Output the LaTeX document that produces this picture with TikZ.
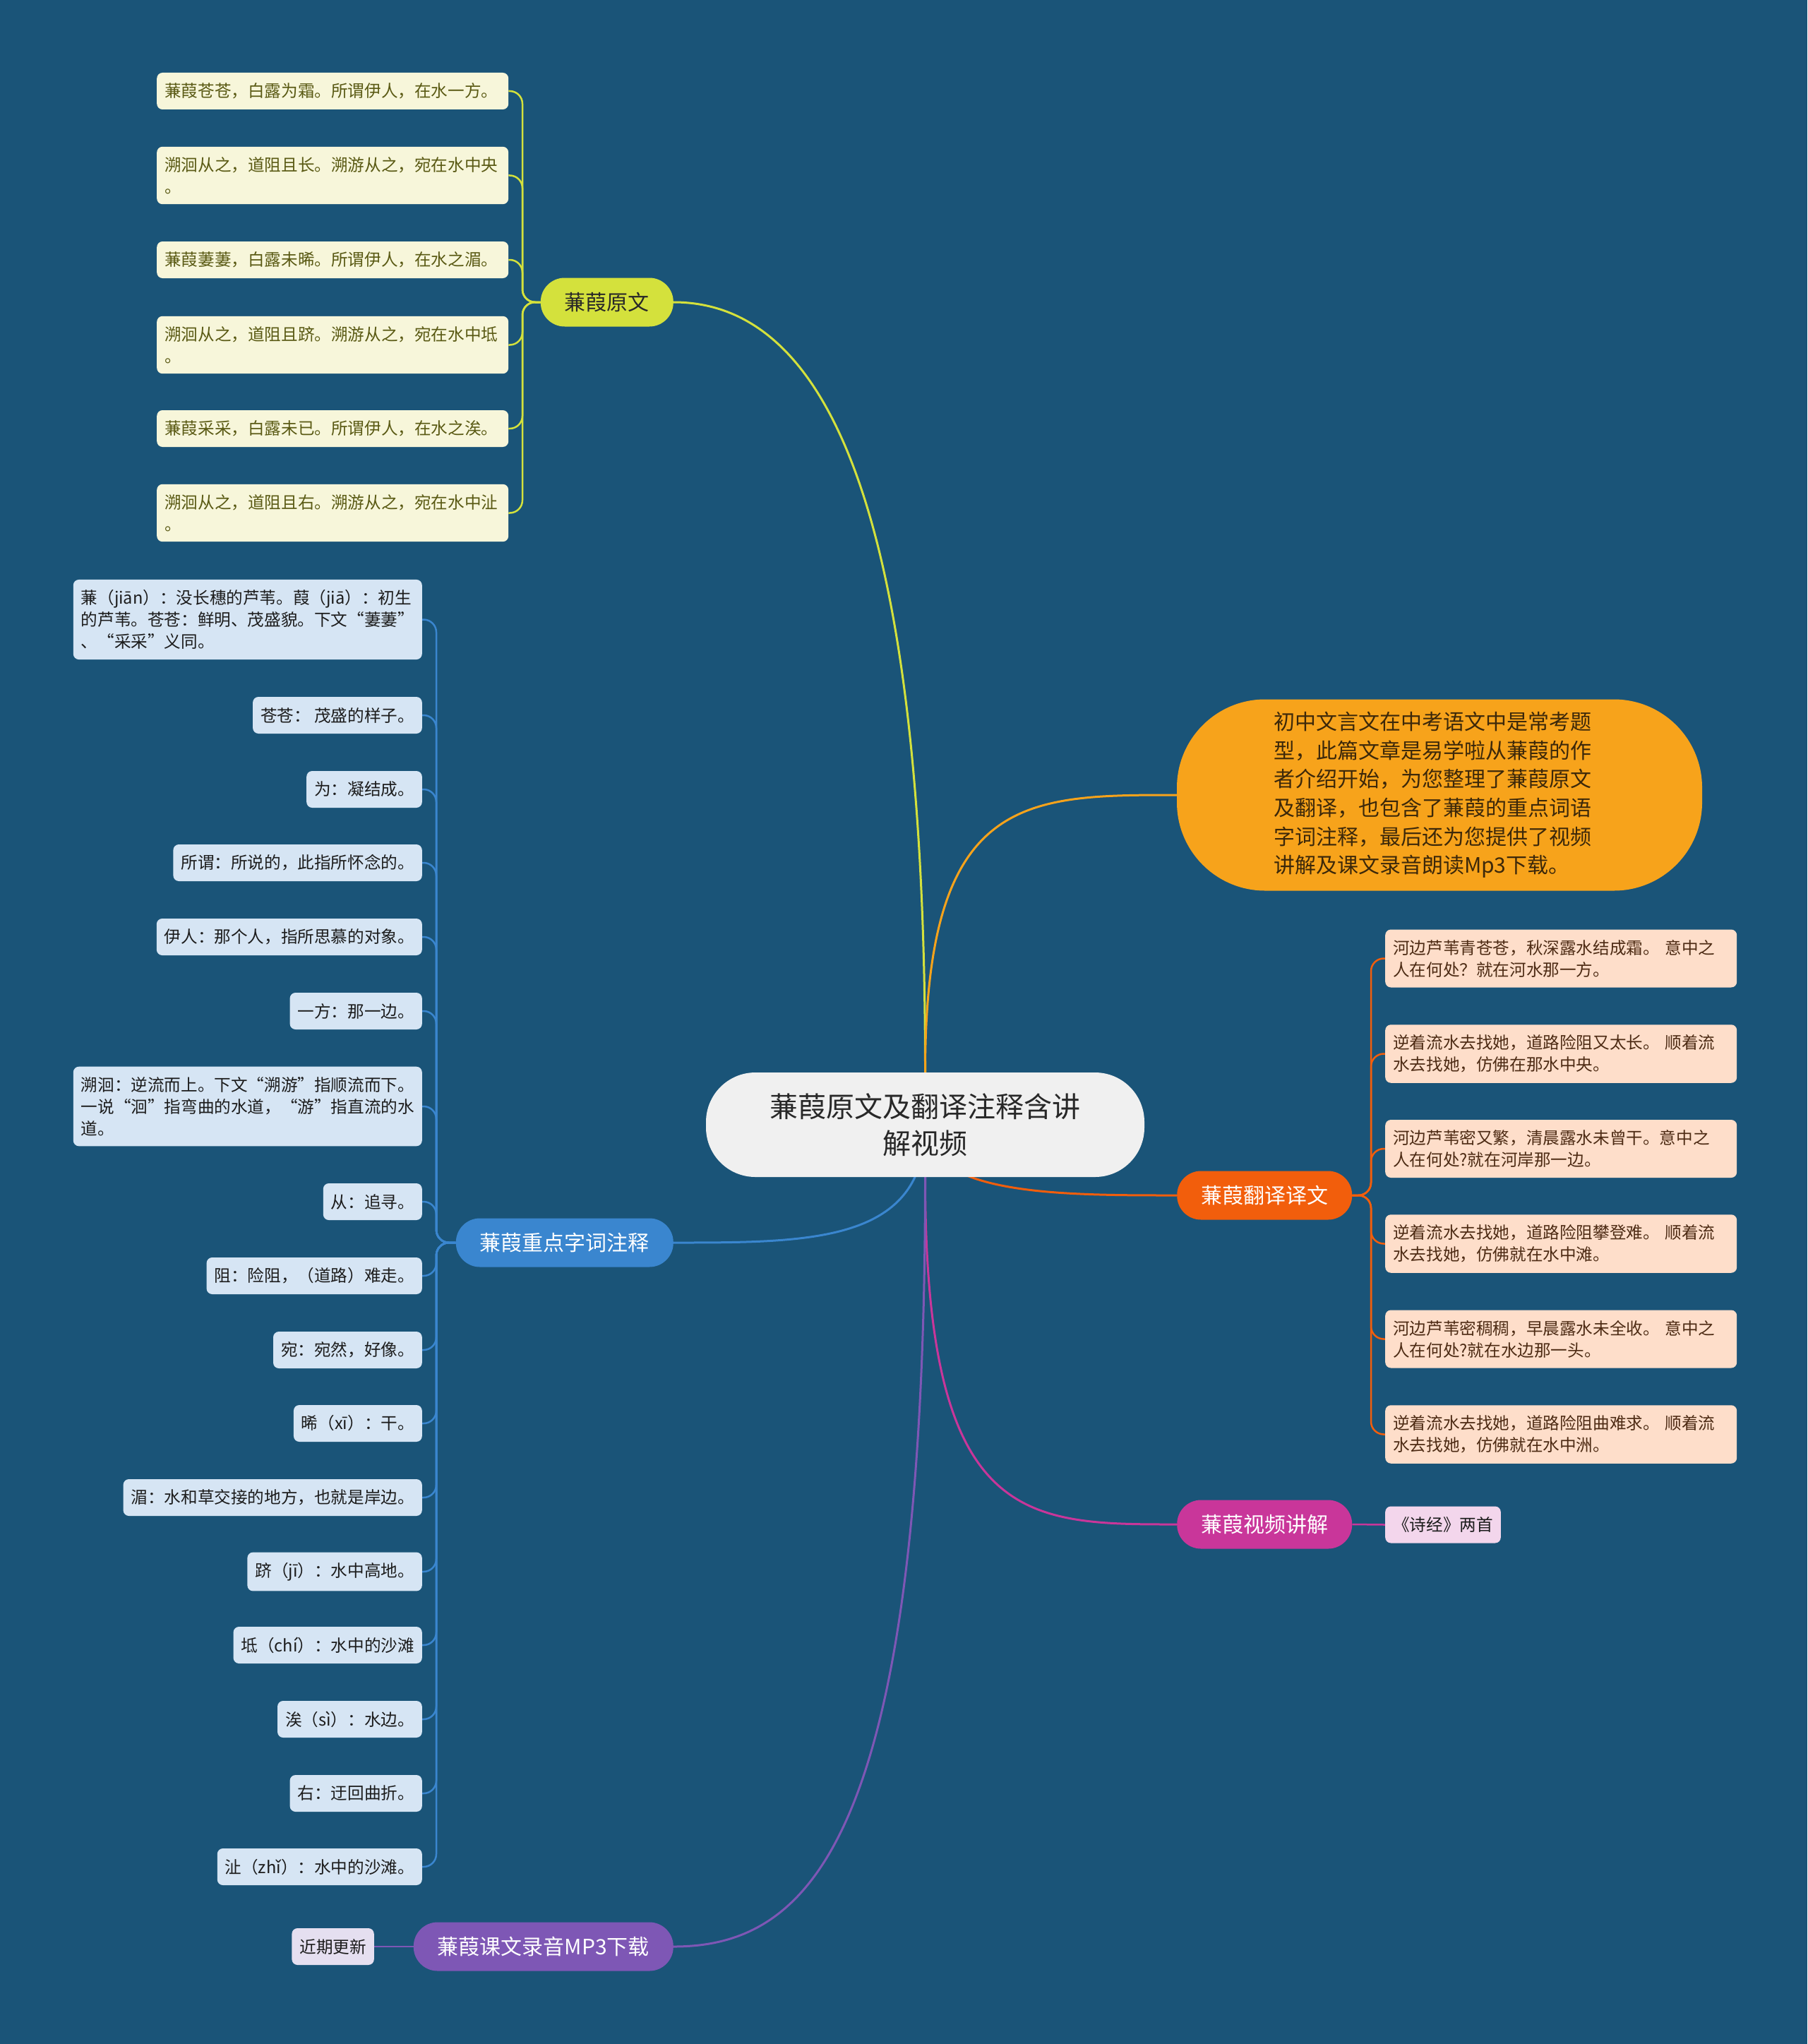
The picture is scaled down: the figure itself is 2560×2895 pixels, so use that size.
\documentclass[tikz,border=0pt]{standalone}
\usepackage{fontspec}
\setmainfont{Noto Sans CJK SC}
\definecolor{bgc}{RGB}{26,84,120}
\definecolor{ylb}{RGB}{212,225,60}
\definecolor{ylf}{RGB}{247,246,218}
\definecolor{ylt}{RGB}{90,90,20}
\definecolor{inb}{RGB}{247,163,27}
\definecolor{int}{RGB}{60,40,10}
\definecolor{trb}{RGB}{242,94,12}
\definecolor{trf}{RGB}{254,222,202}
\definecolor{trt}{RGB}{77,43,20}
\definecolor{blb}{RGB}{58,134,207}
\definecolor{blf}{RGB}{214,229,244}
\definecolor{blt}{RGB}{28,28,28}
\definecolor{vdb}{RGB}{201,54,154}
\definecolor{vdf}{RGB}{243,214,236}
\definecolor{mpb}{RGB}{126,87,181}
\definecolor{mpf}{RGB}{229,223,240}
\definecolor{rtf}{RGB}{240,240,240}
\definecolor{rtt}{RGB}{40,40,40}
\newcommand\leaffont{\fontsize{23.6}{31}\selectfont}
\newcommand\branchfont{\fontsize{30}{40}\selectfont}
\newcommand\introfont{\fontsize{30}{40.6}\selectfont}
\newcommand\rootfont{\fontsize{40}{52}\selectfont}
\pgfdeclarelayer{bgl}
\pgfdeclarelayer{edges}
\pgfsetlayers{bgl,edges,main}
\begin{document}
\begin{tikzpicture}[x=1pt,y=-1pt,
  leafbase/.style={rounded corners=8, inner xsep=11, inner ysep=14.5, minimum height=52, font=\leaffont},
  leafy/.style={leafbase, fill=ylf, text=ylt, align=left, text width=476, anchor=west},
  leafo/.style={leafbase, fill=trf, text=trt, align=left, text width=476, anchor=west},
  leafb/.style={leafbase, fill=blf, text=blt, align=left, anchor=east},
  branch/.style={rounded corners=34, minimum height=69, inner xsep=34, inner ysep=10, font=\branchfont},
  rootline/.style={line width=3},
  leafline/.style={line width=2.5, rounded corners=18}]
\begin{pgfonlayer}{bgl}
\fill[bgc] (0,0) rectangle (2560,2895);
\end{pgfonlayer}
\useasboundingbox (0,0) rectangle (2560,2895);

% root
\node[fill=rtf, text=rtt, rounded corners=70, minimum width=621, minimum height=148, align=center, font=\rootfont] (root) at (1310.5,1593) {蒹葭原文及翻译注释含讲\\解视频};

% branches
\node[branch, fill=ylb, text=rtt, anchor=east] (yl) at (954,428) {蒹葭原文};
\node[fill=inb, text=int, rounded corners=125, minimum width=744, minimum height=271, align=left, text width=470, font=\introfont] (intro) at (2039,1126) {初中文言文在中考语文中是常考题\\型，此篇文章是易学啦从蒹葭的作\\者介绍开始，为您整理了蒹葭原文\\及翻译，也包含了蒹葭的重点词语\\字词注释，最后还为您提供了视频\\讲解及课文录音朗读Mp3下载。};
\node[branch, fill=trb, text=white, anchor=west] (tr) at (1667,1693) {蒹葭翻译译文};
\node[branch, fill=blb, text=white, anchor=east] (an) at (954,1760) {蒹葭重点字词注释};
\node[branch, fill=vdb, text=white, anchor=west] (vd) at (1667,2159) {蒹葭视频讲解};
\node[branch, fill=mpb, text=white, anchor=east] (mp) at (954,2757) {蒹葭课文录音MP3下载};

% spine positions
\coordinate (ysp) at (740,0);
\coordinate (tsp) at (1942,0);
\coordinate (bsp) at (618,0);

% yellow leaves
\node[leafy] (y1) at (222,129) {蒹葭苍苍，白露为霜。所谓伊人，在水一方。};
\node[leafy] (y2) at (222,248.5) {溯洄从之，道阻且长。溯游从之，宛在水中央\\。};
\node[leafy] (y3) at (222,368) {蒹葭萋萋，白露未晞。所谓伊人，在水之湄。};
\node[leafy] (y4) at (222,488.5) {溯洄从之，道阻且跻。溯游从之，宛在水中坻\\。};
\node[leafy] (y5) at (222,607) {蒹葭采采，白露未已。所谓伊人，在水之涘。};
\node[leafy] (y6) at (222,726.5) {溯洄从之，道阻且右。溯游从之，宛在水中沚\\。};

% translation leaves
\node[leafo] (t1) at (1962,1357.5) {河边芦苇青苍苍，秋深露水结成霜。 意中之\\人在何处？就在河水那一方。};
\node[leafo] (t2) at (1962,1492.5) {逆着流水去找她，道路险阻又太长。 顺着流\\水去找她，仿佛在那水中央。};
\node[leafo] (t3) at (1962,1627) {河边芦苇密又繁，清晨露水未曾干。意中之\\人在何处?就在河岸那一边。};
\node[leafo] (t4) at (1962,1761.5) {逆着流水去找她，道路险阻攀登难。 顺着流\\水去找她，仿佛就在水中滩。};
\node[leafo] (t5) at (1962,1896.5) {河边芦苇密稠稠，早晨露水未全收。 意中之\\人在何处?就在水边那一头。};
\node[leafo] (t6) at (1962,2031.5) {逆着流水去找她，道路险阻曲难求。 顺着流\\水去找她，仿佛就在水中洲。};

% annotation leaves
\node[leafb] (a1) at (598,877.5) {蒹（jiān）：没长穗的芦苇。葭（jiā）：初生\\的芦苇。苍苍：鲜明、茂盛貌。下文“萋萋”\\、“采采”义同。};
\node[leafb] (a2) at (598,1013) {苍苍： 茂盛的样子。};
\node[leafb] (a3) at (598,1118) {为：凝结成。};
\node[leafb] (a4) at (598,1222) {所谓：所说的，此指所怀念的。};
\node[leafb] (a5) at (598,1327) {伊人：那个人，指所思慕的对象。};
\node[leafb] (a6) at (598,1432) {一方：那一边。};
\node[leafb] (a7) at (598,1567) {溯洄：逆流而上。下文“溯游”指顺流而下。\\一说“洄”指弯曲的水道，“游”指直流的水\\道。};
\node[leafb] (a8) at (598,1702) {从：追寻。};
\node[leafb] (a9) at (598,1807) {阻：险阻，（道路）难走。};
\node[leafb] (a10) at (598,1912) {宛：宛然，好像。};
\node[leafb] (a11) at (598,2016) {晞（xī）：干。};
\node[leafb] (a12) at (598,2121) {湄：水和草交接的地方，也就是岸边。};
\node[leafb] (a13) at (598,2226) {跻（jī）：水中高地。};
\node[leafb] (a14) at (598,2330) {坻（chí）：水中的沙滩};
\node[leafb] (a15) at (598,2435) {涘（sì）：水边。};
\node[leafb] (a16) at (598,2540) {右：迂回曲折。};
\node[leafb] (a17) at (598,2644) {沚（zhǐ）：水中的沙滩。};

% other leaves
\node[leafbase, fill=vdf, text=blt, anchor=west] (v1) at (1962,2159.5) {《诗经》两首};
\node[leafbase, fill=mpf, text=blt, anchor=east] (m1) at (530,2757) {近期更新};

\begin{pgfonlayer}{edges}
% root connectors
\draw[rootline, ylb] (root.north) .. controls +(0,-700) and +(250,0) .. (yl.east);
\draw[rootline, inb] (root.north) .. controls +(0,-393) and +(-217,0) .. (intro.west);
\draw[rootline, trb] (root.center) .. controls +(0,100) and +(-167,0) .. (tr.west);
\draw[rootline, blb] (root.center) .. controls +(0,167) and +(196,0) .. (an.east);
\draw[rootline, vdb] (root.south) .. controls +(0,492) and +(-217,0) .. (vd.west);
\draw[rootline, mpb] (root.south) .. controls +(0,933) and +(196,0) .. (mp.east);
% yellow
\foreach \n in {y1,y2,y3,y4,y5,y6}
  \draw[leafline, ylb] (yl.west) -- (yl.west -| ysp) -- (\n.east -| ysp) -- (\n.east);
% translation
\foreach \n in {t1,t2,t3,t4,t5,t6}
  \draw[leafline, trb] (tr.east) -- (tr.east -| tsp) -- (\n.west -| tsp) -- (\n.west);
% annotations
\foreach \n in {a1,a2,a3,a4,a5,a6,a7,a8,a9,a10,a11,a12,a13,a14,a15,a16,a17}
  \draw[leafline, blb] (an.west) -- (an.west -| bsp) -- (\n.east -| bsp) -- (\n.east);
\draw[leafline, vdb] (vd.east) -- (v1.west);
\draw[leafline, mpb] (mp.west) -- (m1.east);
\end{pgfonlayer}
\end{tikzpicture}
\end{document}
